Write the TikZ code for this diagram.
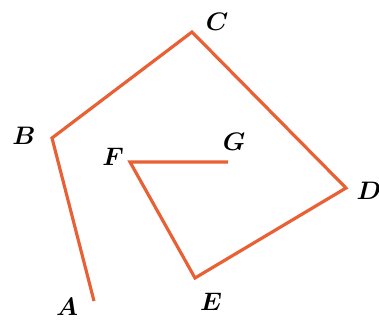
\documentclass[tikz,border=0pt]{standalone}
\usepackage{amsmath,amssymb}
\usepackage{tikz}
\usetikzlibrary{positioning}
\definecolor{pathorange}{RGB}{232,96,52}

\begin{document}
\begin{tikzpicture}[
    x=0.02cm, y=-0.02cm,
    font=\Large,
    lbl/.style={inner sep=1pt, font=\Large\boldmath},
    trail/.style={draw=pathorange, line width=1.8pt, line join=miter}
  ]
  \useasboundingbox (0,0) rectangle (379,321);
  \coordinate (A) at (94,301);
  \coordinate (B) at (52,138);
  \coordinate (C) at (192,32);
  \coordinate (D) at (346,188);
  \coordinate (E) at (195,278);
  \coordinate (F) at (130,162);
  \coordinate (G) at (228,162);
  \node[lbl] (la) at (67,307) {$A$};
  \node[lbl] (lb) at (24,136) {$B$};
  \node[lbl] (lc) at (217,22) {$C$};
  \node[lbl] (ld) at (369,191) {$D$};
  \node[lbl] (le) at (211,302) {$E$};
  \node[lbl] (lf) at (113,157) {$F$};
  \node[lbl] (lg) at (234,142) {$G$};
  \draw[trail] (A) -- (B) -- (C) -- (D) -- (E) -- (F) -- (G);
\end{tikzpicture}
\end{document}
